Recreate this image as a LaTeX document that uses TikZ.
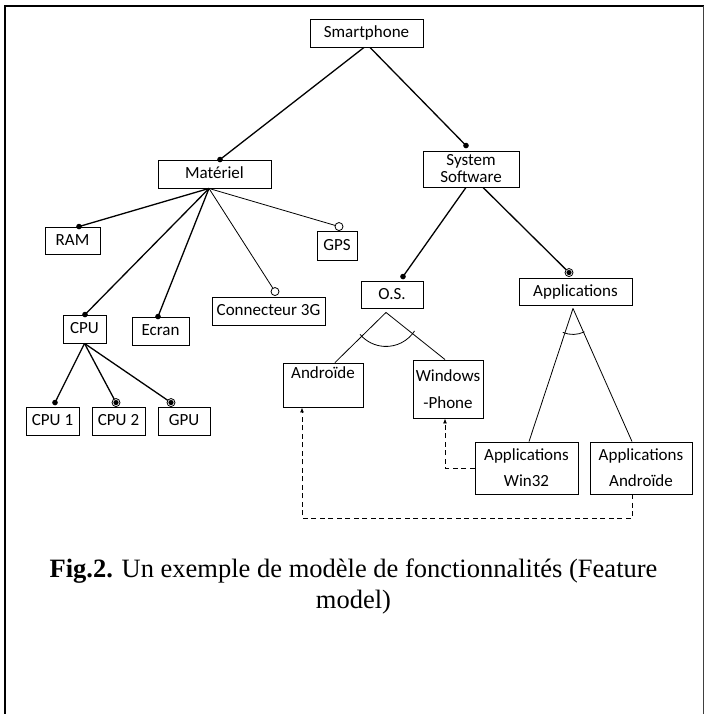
\documentclass[tikz,border=0pt]{standalone}
\usepackage{fontspec}
\setmainfont{Liberation Serif}
\newfontfamily\nodefont{Carlito}
\usetikzlibrary{calc,arrows.meta}
\begin{document}
\begin{tikzpicture}[x=1pt,y=-1pt,
  feat/.style={draw, line width=0.9pt, inner sep=0pt, align=center,
    font=\nodefont\fontsize{17}{26}\selectfont},
  one/.style={feat, text height=11pt, text depth=2pt},
  thk/.style={line width=1.3pt},
  thn/.style={line width=0.8pt},
  dsh/.style={line width=0.9pt, dash pattern=on 5pt off 3.5pt},
  tip/.style={-{Latex[length=5pt,width=4pt]}},
  capt/.style={font=\fontsize{26.5}{31}\selectfont, anchor=base, inner sep=0pt}
]
\useasboundingbox (0,0) rectangle (704,714);
% frame
\draw[line width=2.2pt] (5,714) -- (5,6) -- (704,6);
\draw[line width=0.9pt, black!75] (703,6) -- (703,714);

% features
\node[one, minimum width=113pt, minimum height=28pt] (smart) at (366.5,33) {Smartphone};
\node[one, minimum width=113pt, minimum height=28pt] (mat) at (214.5,174) {Matériel};
\node[feat, minimum width=96pt, minimum height=36pt, font=\nodefont\fontsize{17}{17}\selectfont] (sys) at (471,169) {System\\Software};
\node[one, minimum width=55pt, minimum height=27pt] (ram) at (72.5,240.5) {RAM};
\node[one, minimum width=40pt, minimum height=29pt] (gps) at (337,245.5) {GPS};
\node[one, minimum width=113pt, minimum height=28pt] (conn) at (268.5,311) {Connecteur 3G};
\node[one, minimum width=43pt, minimum height=28pt] (cpu) at (84.5,329) {CPU};
\node[one, minimum width=57pt, minimum height=28pt] (ecran) at (160.5,331) {Ecran};
\node[one, minimum width=53pt, minimum height=28pt] (cpu1) at (52.5,421) {CPU 1};
\node[one, minimum width=53pt, minimum height=28pt] (cpu2) at (118.5,421) {CPU 2};
\node[one, minimum width=52pt, minimum height=28pt] (gpu) at (184,421) {GPU};
\node[one, minimum width=62pt, minimum height=27pt] (os) at (392,294.5) {O.S.};
\node[one, minimum width=113pt, minimum height=27pt] (apps) at (575.5,291.5) {Applications};
\node[feat, minimum width=80pt, minimum height=44pt,
  label={[anchor=north, inner sep=4pt, font=\nodefont\fontsize{17}{20}\selectfont]north:Androïde}] (andr) at (323,385) {};
\node[feat, minimum width=70pt, minimum height=58pt, font=\nodefont\fontsize{17}{27}\selectfont] (win) at (448,389) {Windows\\-Phone};
\node[feat, minimum width=103pt, minimum height=52pt] (aw) at (526.5,468) {Applications\\Win32};
\node[feat, minimum width=102pt, minimum height=52pt] (aa) at (641,468) {Applications\\Androïde};

% attachment points
\coordinate (smS1) at ($(smart.south)+(-2.5,0)$);
\coordinate (smS2) at ($(smart.south)+(3.5,0)$);
\coordinate (matN) at ($(mat.north)+(5.5,0)$);
\coordinate (sysN) at ($(sys.north)+(-5,-5)$);
\coordinate (matS) at ($(mat.south)+(-5.5,0)$);
\coordinate (ramN) at ($(ram.north)+(6.5,0)$);
\coordinate (cpuN) at ($(cpu.north)+(0.5,0)$);
\coordinate (ecrN) at ($(ecran.north)+(-2.5,0)$);
\coordinate (connN) at ($(conn.north)+(6.5,-5)$);
\coordinate (gpsN) at ($(gps.north)+(2,-4)$);
\coordinate (cpuS) at (cpu.south);
\coordinate (cpu1N) at ($(cpu1.north)+(2.5,-4)$);
\coordinate (cpu2N) at ($(cpu2.north)+(-2.5,-4)$);
\coordinate (gpuN) at ($(gpu.north)+(-13,-4)$);
\coordinate (sysS1) at ($(sys.south)+(-5,0)$);
\coordinate (sysS2) at ($(sys.south)+(12,0)$);
\coordinate (osN) at ($(os.north)+(11,-4)$);
\coordinate (appsN) at ($(apps.north)+(-6.5,-5)$);
\coordinate (osV) at ($(os.south)+(-6,4)$);
\coordinate (andrN) at ($(andr.north)+(12,0)$);
\coordinate (winN) at ($(win.north)+(-3,0)$);
\coordinate (appsV) at ($(apps.south)+(-2.5,3)$);
\coordinate (awN) at ($(aw.north)+(2.5,0)$);
\coordinate (aaN) at ($(aa.north)+(-9,0)$);
\coordinate (aaS) at ($(aa.south)+(-9,0)$);
\coordinate (andrS) at ($(andr.south)+(-21,0)$);
\coordinate (winS) at ($(win.south)+(-3,0)$);

% connectors
\draw[thk] (smS1) -- (matN); \fill (matN) circle (2.8pt);
\draw[thk] (smS2) -- (sysN); \fill (sysN) circle (2.8pt);
\draw[thk] (matS) -- (ramN); \fill (ramN) circle (2.8pt);
\draw[thk] (matS) -- (cpuN); \fill (cpuN) circle (2.8pt);
\draw[thk] (matS) -- (ecrN); \fill (ecrN) circle (2.8pt);
\draw[thn] (matS) -- (connN); \draw[thn, fill=white] (connN) circle (4pt);
\draw[thn] (matS) -- (gpsN); \draw[thn, fill=white] (gpsN) circle (4pt);
\draw[thk] (cpuS) -- (cpu1N); \fill (cpu1N) circle (2.8pt);
\draw[thk] (cpuS) -- (cpu2N); \draw[thn, fill=white] (cpu2N) circle (4pt); \fill (cpu2N) circle (2.6pt);
\draw[thk] (cpuS) -- (gpuN); \draw[thn, fill=white] (gpuN) circle (4pt); \fill (gpuN) circle (2.6pt);
\draw[thk] (sysS1) -- (osN); \fill (osN) circle (2.8pt);
\draw[thk] (sysS2) -- (appsN); \draw[thn, fill=white] (appsN) circle (4pt); \fill (appsN) circle (2.6pt);
\draw[thn] (osV) -- (andrN);
\draw[thn] (osV) -- (winN);
\draw[thn] ($(osV)+(33:34)$) arc[start angle=33, end angle=140, radius=34];
\draw[thn] (appsV) -- (awN);
\draw[thn] (appsV) -- (aaN);
\draw[thn] ($(appsV)+(64:26)$) arc[start angle=64, end angle=113, radius=26];

% dashed dependencies
\draw[dsh, tip] (aaS) -- ++(0,24) -| (andrS);
\draw[dsh, tip] (aw.west) -| (winS);

% caption
\node[capt] (cap1) at (353.5,577) {\textbf{Fig.2.} Un exemple de modèle de fonctionnalités (Feature};
\node[capt] (cap2) at (353.5,608) {model)};
\end{tikzpicture}
\end{document}
